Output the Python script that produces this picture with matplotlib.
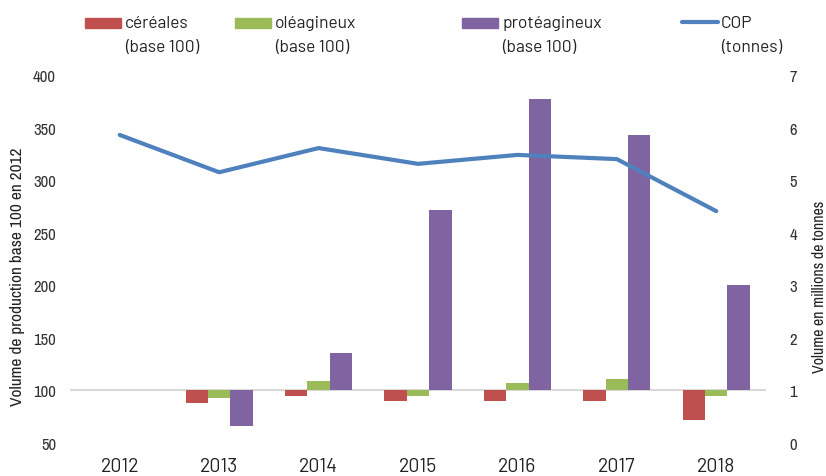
import numpy as np
import matplotlib.pyplot as plt
from matplotlib.patches import Rectangle
from matplotlib.lines import Line2D

plt.rcParams['font.family'] = ['Archivo Narrow', 'DejaVu Sans']
LEG_FONT = ['Barlow', 'DejaVu Sans']

years = ['2012', '2013', '2014', '2015', '2016', '2017', '2018']
cereales = [100, 88, 95, 90, 90, 90, 72]
oleagineux = [100, 93, 109, 95, 107, 111, 95]
proteagineux = [100, 66, 136, 272, 377, 343, 200]
cop_mt = [5.86, 5.15, 5.61, 5.31, 5.48, 5.40, 4.41]

c_red = '#C0504D'
c_green = '#9BBB59'
c_purple = '#8064A2'
c_blue = '#4F81BD'

W, H = 826, 477
fig = plt.figure(figsize=(W / 100, H / 100), dpi=100)
ax = fig.add_axes([70 / W, 1 - 444 / H, 696 / W, 368 / H])


def px(xp, yp):
    # pixel position (from top-left) to figure fraction
    return xp / W, 1 - yp / H


x = np.arange(len(years))
w = 0.225
base = 100
for off, vals, col in [(-w, cereales, c_red), (0, oleagineux, c_green), (w, proteagineux, c_purple)]:
    h = np.array(vals) - base
    ax.bar(x + off, h, width=w, bottom=base, color=col, linewidth=0)

ax.axhline(base, color='#d9d9d9', linewidth=1.5, zorder=0)
ax.set_xlim(-0.5, len(years) - 0.5)
ax.set_ylim(50, 400)
ax.set_yticks(np.arange(50, 401, 50))
ax.set_xticks(x)
ax.set_xticklabels(years, fontsize=14, family=LEG_FONT)
ax.tick_params(axis='y', length=0, labelsize=12, pad=10, labelcolor='#333333')
ax.tick_params(axis='x', length=0, pad=10, labelcolor='#222222')
for s in ax.spines.values():
    s.set_visible(False)

ax2 = ax.twinx()
ax2.plot(x, cop_mt, color=c_blue, linewidth=3, solid_capstyle='round')
ax2.set_ylim(0, 7)
ax2.set_yticks(range(0, 8))
ax2.tick_params(axis='y', length=0, labelsize=12, pad=17, labelcolor='#333333')
for s in ax2.spines.values():
    s.set_visible(False)

fig.text(*px(18, 277), 'Volume de production base 100 en 2012', rotation=90,
         ha='center', va='center', fontsize=12.5, color='#222222')
fig.text(*px(819, 287), 'Volume en millions de tonnes', rotation=90,
         ha='center', va='center', fontsize=11.5, color='#222222')

# legend at the top: key, then two text lines
legend = [
    ('bar', c_red, 85, 'céréales', '(base 100)'),
    ('bar', c_green, 235, 'oléagineux', '(base 100)'),
    ('bar', c_purple, 462, 'protéagineux', '(base 100)'),
    ('line', c_blue, 681, 'COP', '(tonnes)'),
]
for kind, col, x0, l1, l2 in legend:
    if kind == 'bar':
        fx, fy = px(x0, 29)
        fig.patches.append(Rectangle((fx, fy), 36 / W, 10 / H, transform=fig.transFigure,
                                     color=col, figure=fig))
    else:
        fx0, fy = px(x0 + 1, 23)
        fx1, _ = px(x0 + 37, 23)
        fig.lines.append(Line2D([fx0, fx1], [fy, fy], transform=fig.transFigure,
                                color=col, linewidth=3, solid_capstyle='round'))
    fig.text(*px(x0 + 40, 28), l1, fontsize=12.5, family=LEG_FONT, va='baseline',
             ha='left', color='#222222')
    fig.text(*px(x0 + 40, 52), l2, fontsize=12.5, family=LEG_FONT, va='baseline',
             ha='left', color='#222222')

fig.savefig('out.png', dpi=100)
